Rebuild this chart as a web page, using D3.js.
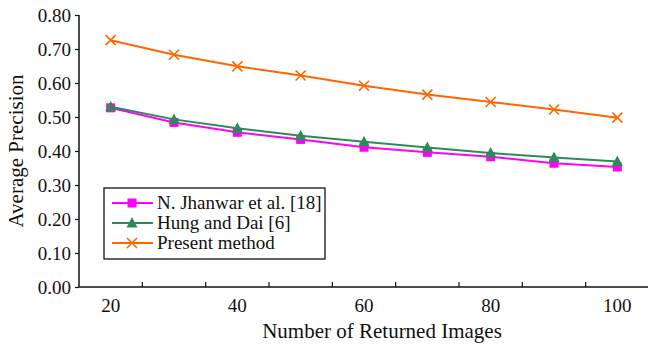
<!DOCTYPE html>
<html>
<head>
<meta charset="utf-8">
<script src="https://cdn.jsdelivr.net/npm/d3@7/dist/d3.min.js"></script>
<style>
  body { margin: 0; background: #fff; }
</style>
</head>
<body>
<svg id="chart" width="648" height="346"></svg>
<script>
// data
var images = [20, 30, 40, 50, 60, 70, 80, 90, 100];
var xLabels = [20, 40, 60, 80, 100];
var yTicks = [0, 0.1, 0.2, 0.3, 0.4, 0.5, 0.6, 0.7, 0.8];
var jhanwar = [0.527, 0.484, 0.455, 0.434, 0.411, 0.396, 0.383, 0.364, 0.353];
var hungDai = [0.530, 0.493, 0.467, 0.445, 0.427, 0.410, 0.394, 0.381, 0.369];
var present = [0.726, 0.683, 0.649, 0.622, 0.592, 0.566, 0.544, 0.522, 0.498];
var seriesNames = ["N. Jhanwar et al. [18]", "Hung and Dai [6]", "Present method"];
var seriesColors = ["#ff00ff", "#2e8b57", "#ff6600"];
var seriesShapes = ["square", "triangle", "cross"];

(function() {
  var FONT = "Liberation Serif";
  var svg = d3.select("#chart").attr("font-family", FONT);
  var pl = 79, pr = 649, pt = 15, pb = 287;

  var x = d3.scaleBand().domain(images).range([pl, pr]);
  var y = d3.scaleLinear().domain([0, 0.8]).range([pb, pt]);
  var cx = function(d) { return x(d) + x.bandwidth() / 2; };

  // y axis
  var yAxis = svg.append("g")
    .attr("transform", "translate(" + pl + ",0)")
    .call(d3.axisLeft(y).tickValues(yTicks).tickFormat(d3.format(".2f")).tickSize(4).tickPadding(4));
  yAxis.attr("font-family", FONT).attr("font-size", 19);
  yAxis.select(".domain").attr("stroke", "#111").attr("stroke-width", 1.5).attr("d", "M0," + pt + "V" + pb);
  yAxis.selectAll(".tick line").attr("stroke", "#111").attr("stroke-width", 1.2);
  yAxis.selectAll(".tick text").attr("fill", "#111");

  // x axis: ticks between categories, labels every second category
  var xg = svg.append("g").attr("transform", "translate(0," + pb + ")");
  xg.append("line").attr("x1", pl).attr("x2", 648).attr("stroke", "#111").attr("stroke-width", 1.5);
  xg.selectAll(".xt").data(images).enter().append("line")
    .attr("x1", function(d) { return x(d) + x.bandwidth(); })
    .attr("x2", function(d) { return x(d) + x.bandwidth(); })
    .attr("y1", 0).attr("y2", -5).attr("stroke", "#111").attr("stroke-width", 1.2);
  xg.selectAll(".xl").data(xLabels).enter().append("text")
    .attr("x", cx).attr("y", 25).attr("text-anchor", "middle").attr("font-size", 19)
    .attr("fill", "#111").text(function(d) { return d; });

  svg.append("text").attr("x", 382).attr("y", 338).attr("text-anchor", "middle")
    .attr("font-size", 21).attr("fill", "#111").text("Number of Returned Images");
  svg.append("text").attr("transform", "translate(23,151) rotate(-90)").attr("text-anchor", "middle")
    .attr("font-size", 21).attr("fill", "#111").text("Average Precision");

  function marker(g, shape, color) {
    if (shape === "square") {
      g.append("rect").attr("x", -4.5).attr("y", -4.5).attr("width", 9).attr("height", 9).attr("fill", color);
    } else if (shape === "triangle") {
      g.append("path").attr("d", "M0,-6L5.5,4.5L-5.5,4.5Z").attr("fill", color);
    } else {
      g.append("path").attr("d", "M-5,-5L5,5M-5,5L5,-5").attr("stroke", color).attr("stroke-width", 1.6);
    }
  }

  var allSeries = [jhanwar, hungDai, present];
  var line = d3.line().x(function(d, i) { return cx(images[i]); }).y(function(d) { return y(d); });

  allSeries.forEach(function(vals, s) {
    svg.append("path").datum(vals).attr("d", line).attr("fill", "none")
      .attr("stroke", seriesColors[s]).attr("stroke-width", 2);
    vals.forEach(function(v, i) {
      var g = svg.append("g").attr("transform", "translate(" + cx(images[i]) + "," + y(v) + ")");
      marker(g, seriesShapes[s], seriesColors[s]);
    });
  });

  // legend
  var lg = svg.append("g");
  lg.append("rect").attr("x", 104).attr("y", 188).attr("width", 221).attr("height", 71)
    .attr("fill", "#fff").attr("stroke", "#111").attr("stroke-width", 1.3);
  seriesNames.forEach(function(name, s) {
    var ry = 203 + s * 20;
    lg.append("line").attr("x1", 112).attr("x2", 153).attr("y1", ry).attr("y2", ry)
      .attr("stroke", seriesColors[s]).attr("stroke-width", 2);
    marker(lg.append("g").attr("transform", "translate(132," + ry + ")"), seriesShapes[s], seriesColors[s]);
    lg.append("text").attr("x", 157).attr("y", ry + 6).attr("font-size", 19).attr("fill", "#111").text(name);
  });
})();
</script>
</body>
</html>
